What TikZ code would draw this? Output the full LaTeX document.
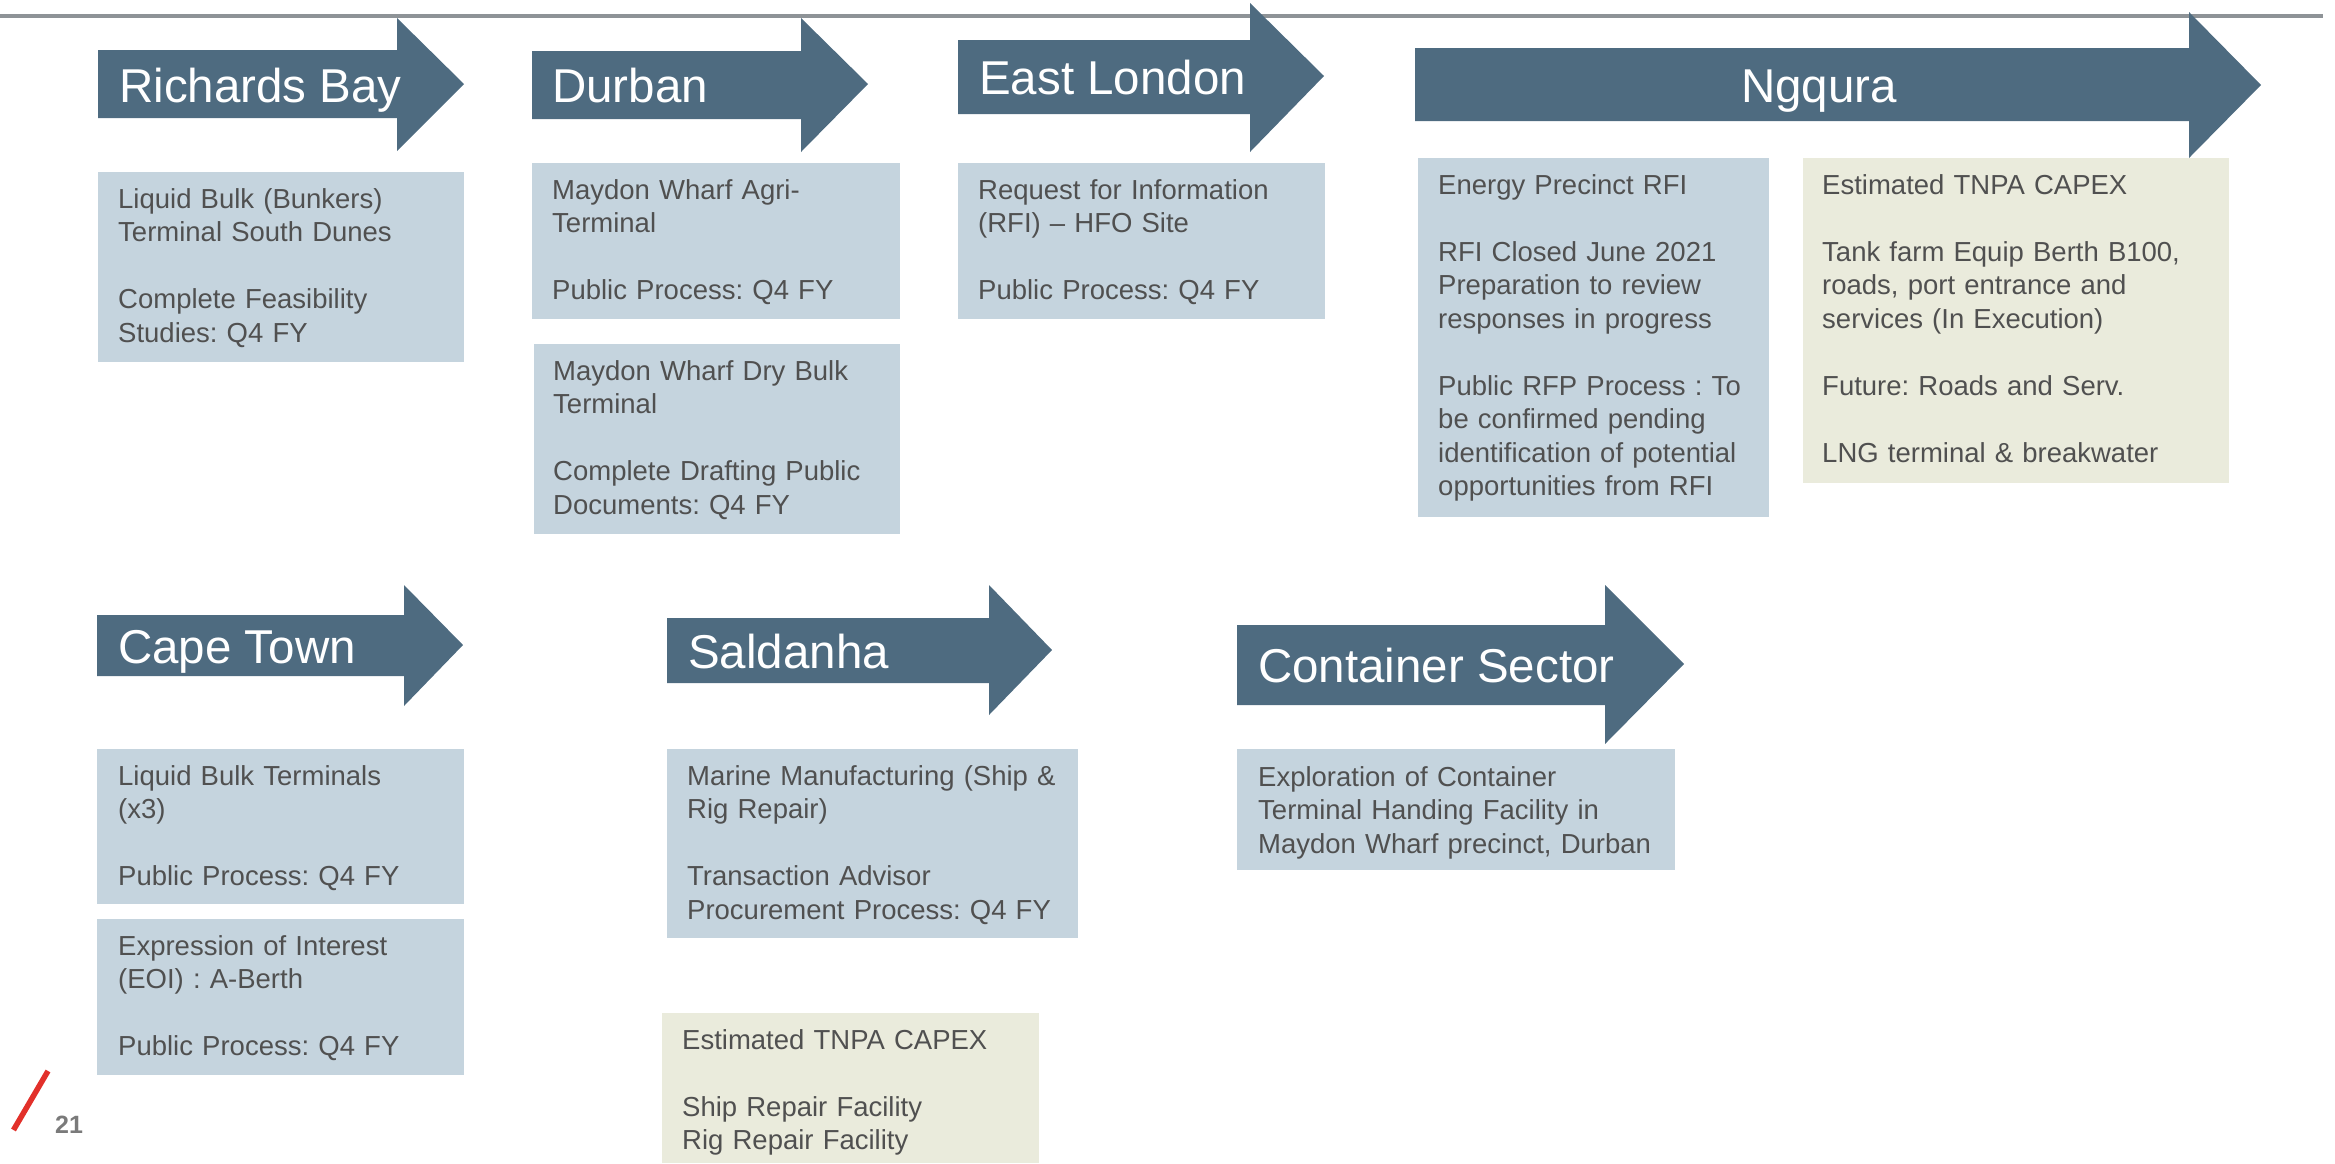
\documentclass[tikz,border=0pt]{standalone}
\usepackage{fontspec}
\setmainfont{Liberation Sans}
\frenchspacing

\definecolor{cor_arrow}{HTML}{4E6B80}
\definecolor{cor_box}{HTML}{C5D4DE}
\definecolor{cor_capex}{HTML}{EAEBDC}
\definecolor{cor_text}{HTML}{505050}
\definecolor{cor_line}{HTML}{8E9397}
\definecolor{cor_red}{HTML}{E2302A}
\definecolor{cor_page}{HTML}{7A7A7A}

\begin{document}
\begin{tikzpicture}[x=1pt,y=-1pt]
        \tikzset{
            seta/.style={
                fill=cor_arrow
            },
            infobox/.style={
                fill=#1,
                anchor=north west,
                inner sep=0pt,
                outer sep=0pt
            },
            infotext/.style={
                text=cor_text,
                font=\fontsize{27.5}{33.5}\selectfont,
                align=left,
                text width=420pt,
                inner sep=0pt,
                anchor=base west
            },
            portname/.style={
                text=white,
                font=\fontsize{47.5}{57}\selectfont,
                inner sep=0pt,
                anchor=base west
            }
        }
        \useasboundingbox (0,0) rectangle (2335,1163);

        \draw[cor_line, line width=4pt] (0,16) -- (2323,16);

        %setas
        %linha 1
        \fill[seta] (98,50) -- (397,50) -- (397,18) -- (464,84) -- (397,151) -- (397,118) -- (98,118) -- cycle;
        \fill[seta] (532,51) -- (801,51) -- (801,18) -- (868,84) -- (801,152) -- (801,119) -- (532,119) -- cycle;
        \fill[seta] (958,40) -- (1250,40) -- (1250,3) -- (1324,76) -- (1250,152) -- (1250,114) -- (958,114) -- cycle;
        \fill[seta] (1415,48) -- (2189,48) -- (2189,12) -- (2261,85) -- (2189,158) -- (2189,121) -- (1415,121) -- cycle;
        %linha 2
        \fill[seta] (97,615) -- (404,615) -- (404,585) -- (463,645) -- (404,706) -- (404,676) -- (97,676) -- cycle;
        \fill[seta] (667,618) -- (989,618) -- (989,585) -- (1052,650) -- (989,715) -- (989,683) -- (667,683) -- cycle;
        \fill[seta] (1237,625) -- (1605,625) -- (1605,585) -- (1684,664) -- (1605,744) -- (1605,705) -- (1237,705) -- cycle;

        %nomes
        \node[portname] (h_rb) at (119,102) {Richards Bay};
        \node[portname] (h_db) at (552,102) {Durban};
        \node[portname] (h_el) at (979,94) {East London};
        \node[portname, anchor=base] (h_nq) at (1819,102) {Ngqura};
        \node[portname] (h_ct) at (118,663) {Cape Town};
        \node[portname] (h_sd) at (688,668) {Saldanha};
        \node[portname] (h_cs) at (1258,682) {Container Sector};

        %caixas
        %Richards Bay
        \node[infobox=cor_box, minimum width=366pt, minimum height=190pt] (rb) at (98,172) {};
        \node[infotext] (t_rb) at ([shift={(20,36)}]rb.north west)
            {Liquid Bulk (Bunkers)\\Terminal South Dunes\\[33.5pt]Complete Feasibility\\Studies: Q4 FY};

        %Durban
        \node[infobox=cor_box, minimum width=368pt, minimum height=156pt] (db1) at (532,163) {};
        \node[infotext] (t_db1) at ([shift={(20,36)}]db1.north west)
            {Maydon Wharf Agri-\\Terminal\\[33.5pt]Public Process: Q4 FY};
        \node[infobox=cor_box, minimum width=366pt, minimum height=190pt] (db2) at (534,344) {};
        \node[infotext] (t_db2) at ([shift={(19,36)}]db2.north west)
            {Maydon Wharf Dry Bulk\\Terminal\\[33.5pt]Complete Drafting Public\\Documents: Q4 FY};

        %East London
        \node[infobox=cor_box, minimum width=367pt, minimum height=156pt] (el) at (958,163) {};
        \node[infotext] (t_el) at ([shift={(20,36)}]el.north west)
            {Request for Information\\(RFI) -- HFO Site\\[33.5pt]Public Process: Q4 FY};

        %Ngqura
        \node[infobox=cor_box, minimum width=351pt, minimum height=359pt] (en) at (1418,158) {};
        \node[infotext] (t_en) at ([shift={(20,36)}]en.north west)
            {Energy Precinct RFI\\[33.5pt]RFI Closed June 2021\\Preparation to review\\responses in progress\\[33.5pt]Public RFP Process : To\\be confirmed pending\\identification of potential\\opportunities from RFI};
        \node[infobox=cor_capex, minimum width=426pt, minimum height=325pt] (nq) at (1803,158) {};
        \node[infotext] (t_nq) at ([shift={(19,36)}]nq.north west)
            {Estimated TNPA CAPEX\\[33.5pt]Tank farm Equip Berth B100,\\roads, port entrance and\\services (In Execution)\\[33.5pt]Future: Roads and Serv.\\[33.5pt]LNG terminal \& breakwater};

        %Cape Town
        \node[infobox=cor_box, minimum width=367pt, minimum height=155pt] (ct1) at (97,749) {};
        \node[infotext] (t_ct1) at ([shift={(21,36)}]ct1.north west)
            {Liquid Bulk Terminals\\(x3)\\[33.5pt]Public Process: Q4 FY};
        \node[infobox=cor_box, minimum width=367pt, minimum height=156pt] (ct2) at (97,919) {};
        \node[infotext] (t_ct2) at ([shift={(21,36)}]ct2.north west)
            {Expression of Interest\\(EOI) : A-Berth\\[33.5pt]Public Process: Q4 FY};

        %Saldanha
        \node[infobox=cor_box, minimum width=411pt, minimum height=189pt] (sd) at (667,749) {};
        \node[infotext] (t_sd) at ([shift={(20,36)}]sd.north west)
            {Marine Manufacturing (Ship \&\\Rig Repair)\\[33.5pt]Transaction Advisor\\Procurement Process: Q4 FY};
        \node[infobox=cor_capex, minimum width=377pt, minimum height=150pt] (sdc) at (662,1013) {};
        \node[infotext] (t_sdc) at ([shift={(20,36)}]sdc.north west)
            {Estimated TNPA CAPEX\\[33.5pt]Ship Repair Facility\\Rig Repair Facility};

        %Container Sector
        \node[infobox=cor_box, minimum width=438pt, minimum height=121pt] (cs) at (1237,749) {};
        \node[infotext] (t_cs) at ([shift={(21,37)}]cs.north west)
            {Exploration of Container\\Terminal Handing Facility in\\Maydon Wharf precinct, Durban};

        %pagina
        \draw[cor_red, line width=5.5pt] (48,1071) -- (13.5,1130);
        \node[anchor=base west, inner sep=0pt, text=cor_page, font=\bfseries\fontsize{25}{30}\selectfont] (pg) at (55,1133) {21};

    \end{tikzpicture}
\end{document}
